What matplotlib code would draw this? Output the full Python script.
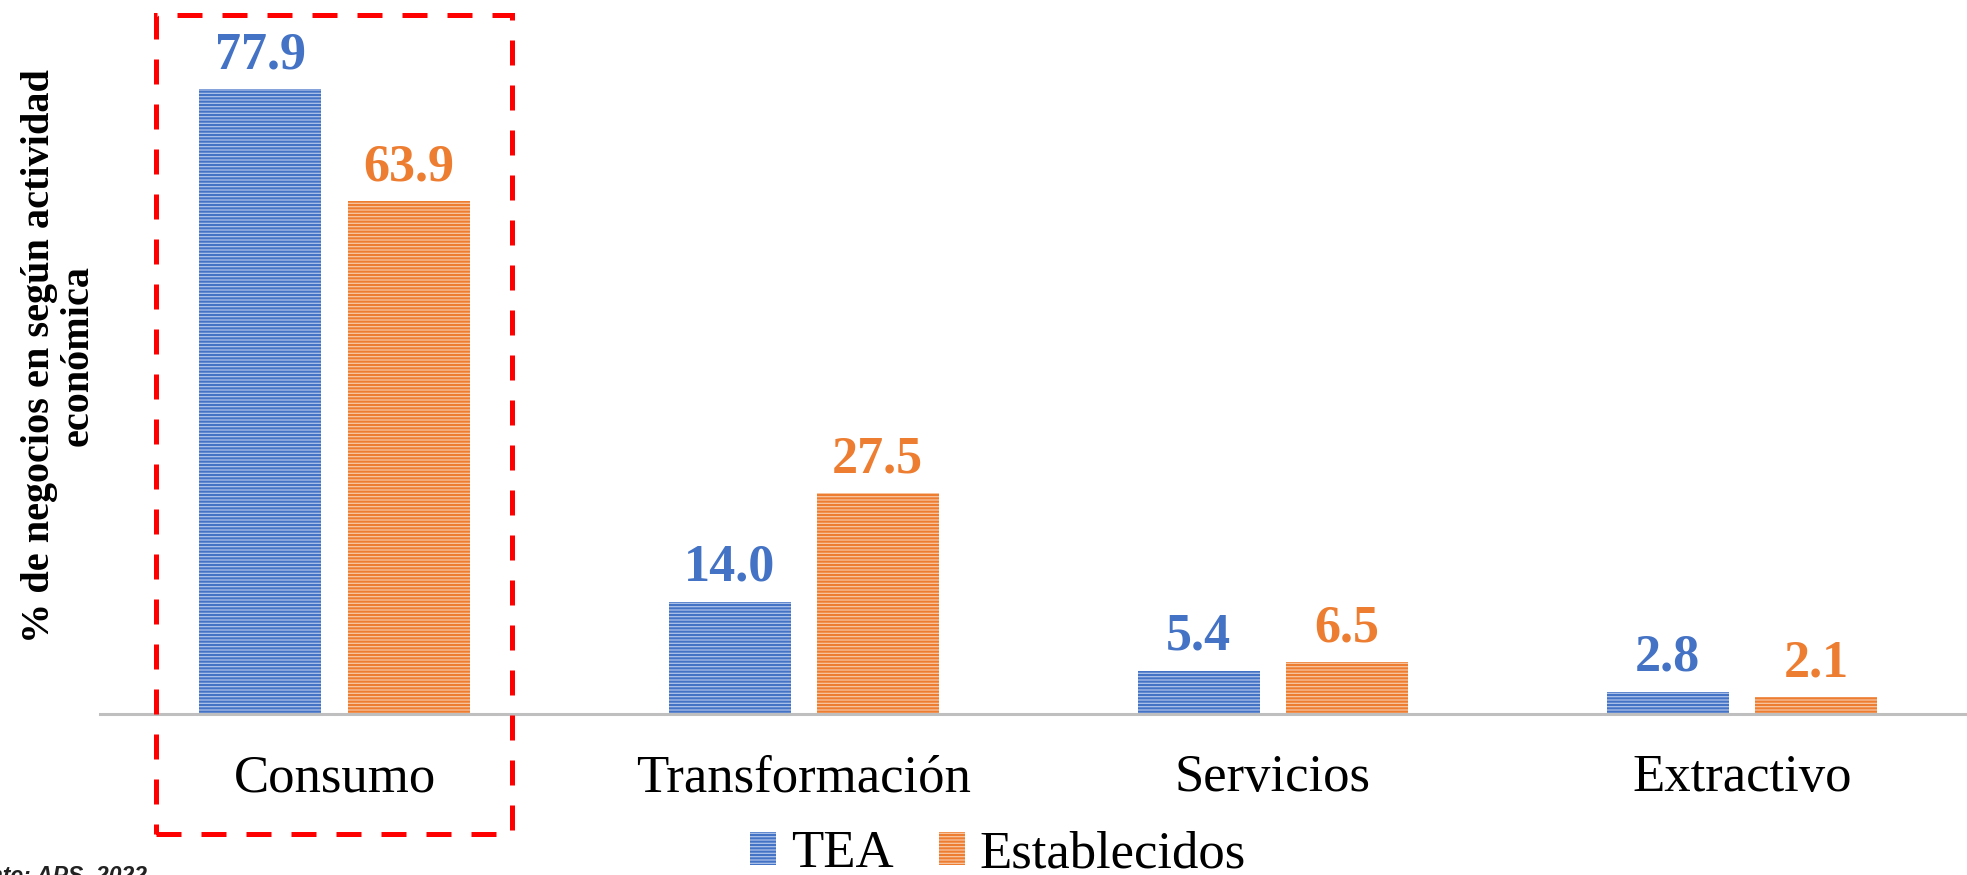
import matplotlib
matplotlib.use("Agg")
import matplotlib.pyplot as plt
import matplotlib.patches as mpatches
import numpy as np

categories = ["Consumo", "Transformación", "Servicios", "Extractivo"]
tea = [77.9, 14.0, 5.4, 2.8]
establecidos = [63.9, 27.5, 6.5, 2.1]
series_names = ["TEA", "Establecidos"]
ylabel = "% de negocios en según actividad\neconómica"
source = "Fuente: APS, 2022"

W, H = 1967, 875
DPI = 100
plt.rcParams['hatch.linewidth'] = 1.5
fig = plt.figure(figsize=(W / DPI, H / DPI), dpi=DPI)
ax = fig.add_axes([100 / W, (H - 714) / H, 1 - 100 / W, 714 / H])

serif = "Liberation Serif"
blue, blue_light = "#4472C4", "#AFC3EA"
orange, orange_light = "#ED7D31", "#F8C6A3"

x = np.arange(len(categories))
bw = 0.26
off = 0.158
b1 = ax.bar(x - off, tea, bw, color=blue_light, edgecolor=blue, linewidth=0, hatch="-----")
b2 = ax.bar(x + off, establecidos, bw, color=orange_light, edgecolor=orange, linewidth=0, hatch="-----")

for rects, vals, col in ((b1, tea, blue), (b2, establecidos, orange)):
    for r, v in zip(rects, vals):
        ax.annotate(f"{v:.1f}", (r.get_x() + r.get_width() / 2, r.get_height()),
                    xytext=(0, 7), textcoords="offset points", ha="center", va="bottom",
                    fontsize=37.5, fontweight="bold", color=col, family=serif)

ax.set_xlim(-0.5, 3.48)
ax.set_ylim(0, 89)
ax.set_xticks(x)
ax.set_xticklabels(categories, fontsize=38, family=serif)
ax.tick_params(axis="x", length=0, pad=29)
ax.set_yticks([])
for s in ("top", "left", "right"):
    ax.spines[s].set_visible(False)
ax.spines["bottom"].set_color("#BFBFBF")
ax.spines["bottom"].set_linewidth(2.2)
ax.patch.set_alpha(0)

fig.text(59 / W, 1 - 356 / H, ylabel, rotation=90, ha="center", va="center",
         multialignment="center", fontsize=29, fontweight="bold", family=serif,
         linespacing=1.05)

handles = [mpatches.Patch(facecolor=blue_light, edgecolor=blue, linewidth=0, hatch="-----"),
           mpatches.Patch(facecolor=orange_light, edgecolor=orange, linewidth=0, hatch="-----")]
fig.legend(handles, series_names, loc="center", bbox_to_anchor=(998 / W, 1 - 854 / H),
           ncol=2, frameon=False, prop={"family": serif, "size": 38},
           handlelength=0.5, handleheight=0.58, handletextpad=0.28, columnspacing=0.85,
           borderpad=0, borderaxespad=0)

rect = mpatches.Rectangle((156 / W, 1 - 834 / H), 356 / W, 819 / H, transform=fig.transFigure,
                          fill=False, edgecolor="#FF0000", linewidth=3.6,
                          linestyle=(0, (5, 4)), clip_on=False)
fig.patches.append(rect)

fig.text(147 / W, 1 - 864 / H, source, ha="right", va="top", fontsize=16.5,
         style="italic", fontweight="bold", family="Liberation Sans", color="#222222")

fig.savefig("out.png", dpi=DPI)
